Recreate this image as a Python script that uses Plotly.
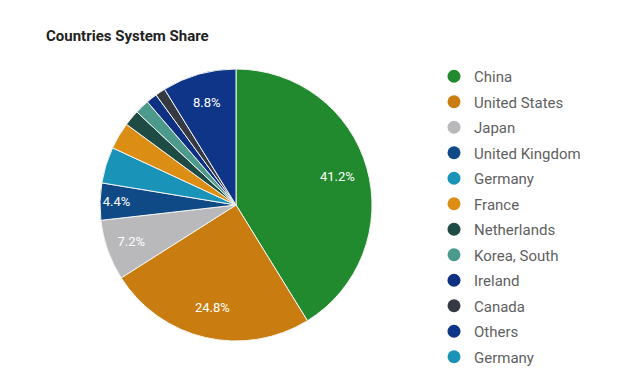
import plotly.graph_objects as go

categories = ["China", "United States", "Japan", "United Kingdom", "Germany", "France",
              "Netherlands", "Korea, South", "Ireland", "Canada", "Others"]
shares = [41.2, 24.8, 7.2, 4.4, 4.3, 3.2, 1.9, 1.7, 1.3, 1.2, 8.8]
colors = ["#228a2e", "#c97d10", "#b9b9bb", "#104a86", "#1a93b9", "#dc8e14",
          "#1e4c44", "#4c9a8c", "#0e3082", "#353944", "#0f3589"]
# extra legend entry visible in the reference legend
extra_legend = ["Germany"]
extra_colors = ["#1a93b9"]

label_min = 4.4
texts = [f"{v:.1f}%" if v >= label_min else "" for v in shares]

dom = dict(x=[100/640, 372/640], y=[43/384, 315/384])

fig = go.Figure()
# full pie with the coloured slices
fig.add_trace(go.Pie(
    labels=categories, values=shares, sort=False, direction="clockwise", rotation=0,
    textinfo="none",
    marker=dict(colors=colors, line=dict(color="#f4f4f0", width=1)),
    domain=dom, showlegend=False, hoverinfo="label+percent",
))
# transparent ring carrying the labels further out
fig.add_trace(go.Pie(
    labels=categories, values=shares, sort=False, direction="clockwise", rotation=0,
    hole=0.55,
    text=texts, textinfo="text", textposition="inside", insidetextorientation="horizontal",
    textfont=dict(family="Roboto", size=13, color="white"),
    marker=dict(colors=["rgba(0,0,0,0)"] * len(shares), line=dict(width=0)),
    domain=dom, showlegend=False, hoverinfo="skip",
))

for i, (n, c) in enumerate(zip(categories + extra_legend, colors + extra_colors)):
    fig.add_trace(go.Scatter(x=[None], y=[None], mode="markers", name=n,
                             legendgroup=f"g{i}",
                             marker=dict(color=c, size=13, symbol="circle")))

fig.update_layout(
    width=640, height=384, margin=dict(l=0, r=0, t=0, b=0, autoexpand=False),
    paper_bgcolor="white", plot_bgcolor="white",
    xaxis=dict(visible=False), yaxis=dict(visible=False),
    uniformtext=dict(minsize=13, mode="show"),
    legend=dict(x=434/640, y=1-60/384, xanchor="left", yanchor="top",
                traceorder="grouped", tracegroupgap=3,
                font=dict(family="Roboto", size=15, color="#5f5f5f"),
                bgcolor="rgba(0,0,0,0)"),
    annotations=[dict(text="<b>Countries System Share</b>", x=44/640, y=1-36/384,
                      xref="paper", yref="paper", xanchor="left", yanchor="middle",
                      showarrow=False, font=dict(family="Roboto", size=15, color="#222222"))],
)

fig.write_html("out.html")
